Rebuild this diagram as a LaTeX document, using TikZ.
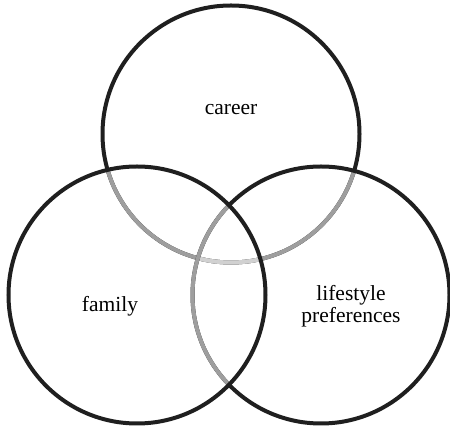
\documentclass[tikz,border=0pt]{standalone}
\usepackage{fontspec}
\setmainfont{Liberation Serif}
\begin{document}
\begin{tikzpicture}[x=1pt,y=1pt, every node/.style={font=\fontsize{21.5}{22}\selectfont},
  ring/.style={line width=4pt,draw=black!88},
  midring/.style={line width=4pt,draw=black!38},
  palering/.style={line width=4pt,draw=black!18}]
\useasboundingbox (0,0) rectangle (450,428);
\coordinate (topc) at (231,294);
\coordinate (leftc) at (137,133);
\coordinate (rightc) at (321,133);
% top circle: dark outside, grey inside the others
\draw[ring] (topc) circle (128.5);
\begin{scope}
  \clip (leftc) circle (128.5);
  \draw[midring] (topc) circle (128.5);
\end{scope}
\begin{scope}
  \clip (rightc) circle (128.5);
  \draw[midring] (topc) circle (128.5);
\end{scope}
\begin{scope}
  \clip (leftc) circle (128.5);
  \clip (rightc) circle (128.5);
  \draw[palering] (topc) circle (128.5);
\end{scope}
% right circle
\draw[ring] (rightc) circle (128.5);
\begin{scope}
  \clip (leftc) circle (128.5);
  \draw[midring] (rightc) circle (128.5);
\end{scope}
% left circle on top
\draw[ring] (leftc) circle (128.5);
\node[anchor=base] (career) at (231,313) {career};
\node[anchor=base] (family) at (110,116) {family};
\node[align=center] (lifestyle) at (351,122) {lifestyle\\preferences};
\end{tikzpicture}
\end{document}
